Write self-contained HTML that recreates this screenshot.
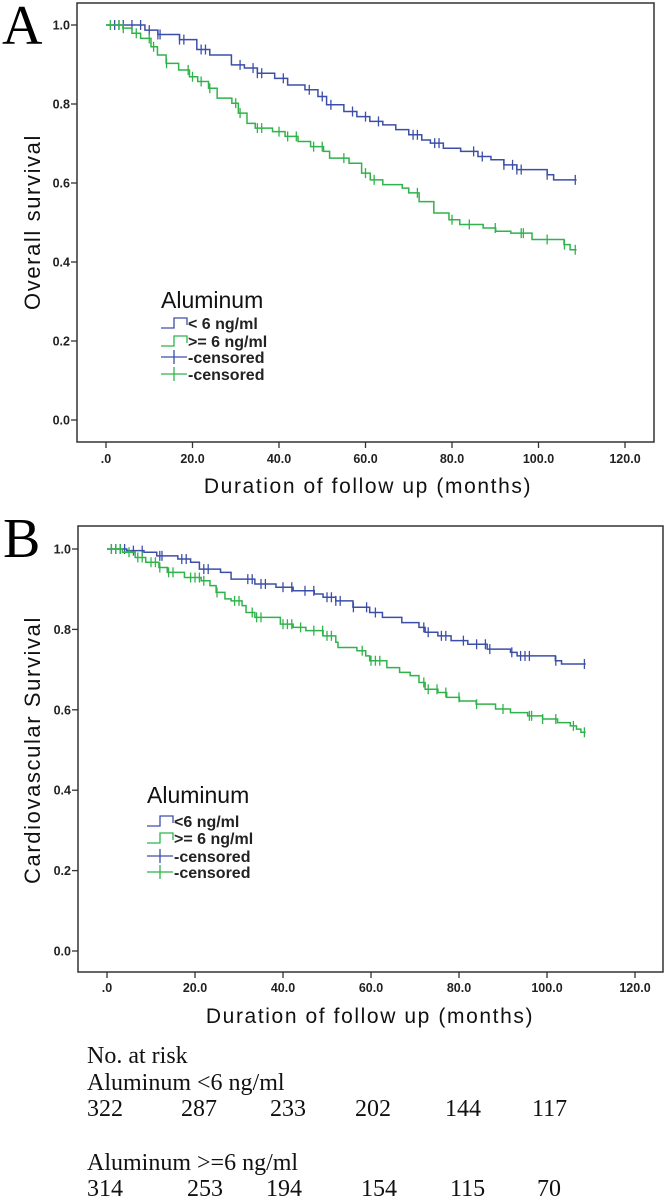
<!DOCTYPE html>
<html><head><meta charset="utf-8"><style>
html,body{margin:0;padding:0;background:#fff;}
svg{display:block;}
.tk{font:bold 12.5px "Liberation Sans",sans-serif;fill:#222;}
.ttl{font:21px "Liberation Sans",sans-serif;fill:#111;letter-spacing:1.6px;}
.leg{font:bold 16px "Liberation Sans",sans-serif;fill:#222;}
.legt{font:23px "Liberation Sans",sans-serif;fill:#111;}
.risk{font:24px "Liberation Serif",serif;fill:#111;}
.big{font:56px "Liberation Serif",serif;fill:#000;}
</style></head><body>
<svg id="fig" xmlns="http://www.w3.org/2000/svg" width="666" height="1197" viewBox="0 0 666 1197">
<text class="big" x="2" y="44">A</text>
<text class="big" x="3" y="557">B</text>
<text class="risk" x="87" y="1063">No. at risk</text>
<text class="risk" x="87" y="1090">Aluminum &lt;6 ng/ml</text>
<text class="risk" x="87" y="1170">Aluminum &gt;=6 ng/ml</text>
</svg>
<script>
// ---- data ----
const xTicks = [0, 20, 40, 60, 80, 100, 120];
const xTickLabels = [".0", "20.0", "40.0", "60.0", "80.0", "100.0", "120.0"];
const yTicks = [0, 0.2, 0.4, 0.6, 0.8, 1.0];
const yTickLabels = ["0.0", "0.2", "0.4", "0.6", "0.8", "1.0"];

const aLowTimes = [0,9,12,17,21,24,29,32,35,39,42,46,49,51,55,58,61,64,67,70,73,75,78,82,86,89,92,95,102,103.5];
const aLowSurv = [1.0,.987,.976,.963,.938,.924,.899,.891,.878,.865,.848,.836,.819,.798,.781,.768,.756,.747,.735,.722,.709,.701,.688,.680,.667,.659,.646,.634,.621,.608];
const aLowCensor = [2,3,4,6,8,10,12,12.5,17,18,22,23,31,34,35,36,41,47,50,52,57,60,63,71,72,76,77,85,87,92,94,95,96,102,108.5];
const aHighTimes = [0,3.9,6,8,10.4,11.9,13.9,16.8,19.3,21.2,23.7,25.7,29.1,30.6,32.6,34.5,38.5,41.4,44.4,47.3,50.3,51.7,56.2,59.1,61.1,64,68.5,70,72.4,75.8,79.3,81.8,87.2,90.1,93.6,98.5,105.9,107.3];
const aHighSurv = [1.0,.992,.979,.966,.945,.924,.903,.886,.869,.857,.840,.815,.802,.777,.751,.739,.730,.718,.705,.692,.680,.663,.650,.625,.608,.596,.587,.575,.553,.524,.507,.495,.486,.478,.473,.457,.444,.431];
const aHighCensor = [1,3,4,7,10,11,14,19,20,22,24,30,31,35,36,40,42,44,48,50,55,60,62,72,80,84,90,96,96.5,102,106,108.5];
const aEnd = 108.8;

const bLowTimes = [0,4.5,8.4,11.3,16.1,19,21,25.8,28.2,33.6,38.4,42.3,47.1,49.1,52,55.9,59.7,62.6,67,70.9,72.3,75.2,78.2,82,86.4,91.7,93.2,101.9,103.3];
const bLowSurv = [1.0,.996,.992,.983,.975,.967,.950,.942,.925,.913,.905,.896,.888,.880,.871,.855,.842,.830,.817,.805,.793,.784,.772,.763,.751,.743,.734,.722,.714];
const bLowCensor = [1,2,3,4,6,8,12,12.5,17,18,22,23,32,33,35,36,40,42,45,47,50,51,52,53,56,59,61,72,73,76,77,81,84,86,87,92,94,95,96,102,108.5];
const bHighTimes = [0,3.5,6.4,8.8,11.8,13.7,17.6,21.4,23.4,24.8,26.8,28.2,30.7,31.6,33.6,39.4,42.3,45.2,49.1,52,52.5,56.8,58.8,59.7,63.6,66.5,68.9,70.9,72.3,75.2,77.2,80.1,83.9,88.3,91.7,95.6,99,102.4,105.3,106.7,107.7];
const bHighSurv = [1.0,.992,.979,.967,.954,.942,.929,.921,.909,.892,.876,.871,.859,.842,.830,.813,.805,.797,.784,.768,.755,.747,.734,.722,.705,.693,.685,.668,.651,.643,.631,.622,.614,.602,.593,.585,.577,.568,.560,.552,.544];
const bHighCensor = [1,2,3,5,7,8,10,11,12,14,15,19,20,21,22,25,29,30,33,34,35,40,41,42,44,47,49,50,51,58,60,61,62,72,73,75,77,80,84,90,96,96.5,99,102,106,108.5];
const bEnd = 108.8;

const riskLow = [322, 287, 233, 202, 144, 117];
const riskHigh = [314, 253, 194, 154, 115, 70];

// ---- drawing ----
const NS = "http://www.w3.org/2000/svg";
const svg = document.getElementById("fig");
function mk(tag, attrs, parent) {
  const e = document.createElementNS(NS, tag);
  for (const k in attrs) e.setAttribute(k, attrs[k]);
  (parent || svg).appendChild(e);
  return e;
}
const BLUE = "#3c4fa8", GREEN = "#2fb34a";

function panel(cfg) {
  const g = mk("g", {});
  
  
  const xs = v => cfg.x0 + (v / 120) * (cfg.x120 - cfg.x0);
  const ys = v => cfg.y0 + v * (cfg.y1 - cfg.y0);
  const fr = mk("rect", {x: cfg.fx, y: cfg.fy, width: cfg.fw, height: cfg.fh, fill: "none", stroke: "#333", "stroke-width": 1.5}, g);
  
  
  xTicks.forEach((t, i) => {
    const x = xs(t);
    mk("line", {x1: x, x2: x, y1: cfg.fy + cfg.fh, y2: cfg.fy + cfg.fh + 6, stroke: "#333", "stroke-width": 1.3}, g);
    const tx = mk("text", {x: x, y: cfg.xLabY, "text-anchor": "middle", class: "tk"}, g);
    tx.textContent = xTickLabels[i];
    
    
  });
  yTicks.forEach((t, i) => {
    const y = ys(t);
    mk("line", {x1: cfg.fx - 6, x2: cfg.fx, y1: y, y2: y, stroke: "#333", "stroke-width": 1.3}, g);
    const tx = mk("text", {x: cfg.fx - 7, y: y + 4.5, "text-anchor": "end", class: "tk"}, g);
    tx.textContent = yTickLabels[i];
    
    
  });
  const xt = mk("text", {x: cfg.xTitleX, y: cfg.xTitleY, "text-anchor": "middle", class: "ttl"}, g);
  xt.textContent = "Duration of follow up (months)";
  
  
  const yt = mk("text", {x: 0, y: 0, "text-anchor": "middle", class: "ttl", transform: "translate(40," + cfg.yTitleY + ") rotate(-90)", style: "font-size:22px"}, g);
  yt.textContent = cfg.yTitle;
  
  

  cfg.series.forEach(s => {
    let d = "M" + xs(s.times[0]) + "," + ys(s.surv[0]);
    for (let i = 1; i < s.times.length; i++) {
      d += " H" + xs(s.times[i]) + " V" + ys(s.surv[i]);
    }
    d += " H" + xs(cfg.end);
    const p = mk("path", {d: d, fill: "none", stroke: s.color, "stroke-width": 1.5}, g);
    
    
    s.censor.forEach(c => {
      let v = s.surv[0];
      for (let i = 0; i < s.times.length; i++) if (s.times[i] <= c) v = s.surv[i];
      const x = xs(c), y = ys(v);
      const m = mk("line", {x1: x, x2: x, y1: y - 5, y2: y + 5, stroke: s.color, "stroke-width": 1.3}, g);
      
      
    });
  });

  // legend
  const L = cfg.leg;
  const lt = mk("text", {x: L.x, y: L.titleY, class: "legt"}, g);
  lt.textContent = "Aluminum";
  
  
  const labels = cfg.legLabels;
  const cols = [BLUE, GREEN, BLUE, GREEN];
  for (let i = 0; i < 4; i++) {
    const y = L.rows[i];
    if (i < 2) {
      mk("path", {d: "M" + L.x + "," + (y + 5) + " H" + (L.x + 13) + " V" + (y - 5) + " H" + (L.x + 26) + " V" + (y + 2), fill: "none", stroke: cols[i], "stroke-width": 1.3}, g);
    } else {
      mk("line", {x1: L.x, x2: L.x + 26, y1: y, y2: y, stroke: cols[i], "stroke-width": 1.3}, g);
      mk("line", {x1: L.x + 13, x2: L.x + 13, y1: y - 7, y2: y + 7, stroke: cols[i], "stroke-width": 1.3}, g);
    }
    const t = mk("text", {x: L.x + 27, y: y + 6, class: "leg"}, g);
    t.textContent = labels[i];
    
    
  }
}

panel({
  name: "panel-a-overall-survival",
  fx: 77, fy: 3, fw: 577, fh: 439,
  x0: 106, x120: 625, y0: 420, y1: 25,
  xLabY: 463, xTitleX: 368, xTitleY: 493,
  yTitle: "Overall survival", yTitleY: 222, end: aEnd,
  series: [
    {name: "low-aluminum", times: aLowTimes, surv: aLowSurv, censor: aLowCensor, color: BLUE},
    {name: "high-aluminum", times: aHighTimes, surv: aHighSurv, censor: aHighCensor, color: GREEN}
  ],
  leg: {x: 161, titleY: 308, rows: [323, 341, 357, 374]},
  legLabels: ["< 6 ng/ml", ">=  6 ng/ml", "-censored", "-censored"]
});
panel({
  name: "panel-b-cardiovascular-survival",
  fx: 78, fy: 526, fw: 585, fh: 446,
  x0: 107, x120: 635, y0: 951, y1: 549,
  xLabY: 992, xTitleX: 370, xTitleY: 1023,
  yTitle: "Cardiovascular Survival", yTitleY: 750, end: bEnd,
  series: [
    {name: "low-aluminum", times: bLowTimes, surv: bLowSurv, censor: bLowCensor, color: BLUE},
    {name: "high-aluminum", times: bHighTimes, surv: bHighSurv, censor: bHighCensor, color: GREEN}
  ],
  leg: {x: 147, titleY: 803, rows: [821, 838, 856, 872]},
  legLabels: ["<6 ng/ml", ">= 6 ng/ml", "-censored", "-censored"]
});

// risk table
const riskLowX = [87, 181, 270, 355, 445, 532];
const riskHighX = [87, 187, 266, 361, 450, 537];
riskLow.forEach((v, i) => {
  const t = mk("text", {x: riskLowX[i], y: 1116, class: "risk"});
  t.textContent = v;
  
  
});
riskHigh.forEach((v, i) => {
  const t = mk("text", {x: riskHighX[i], y: 1196, class: "risk"});
  t.textContent = v;
  
  
});
</script>
</body></html>
